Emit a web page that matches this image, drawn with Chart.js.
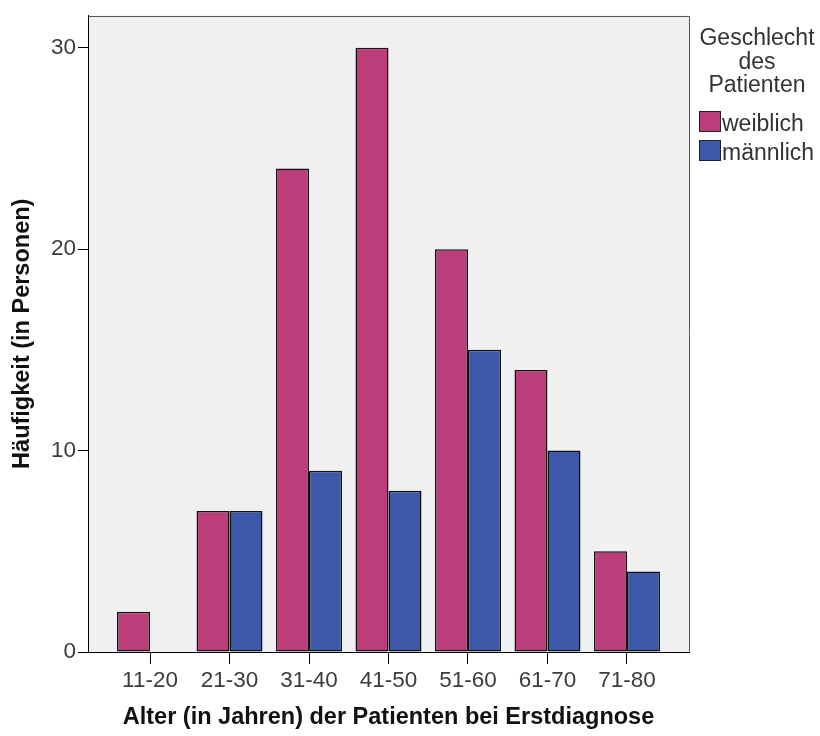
<!DOCTYPE html>
<html lang="de">
<head>
    <meta charset="UTF-8">
    <title>Häufigkeit nach Alter und Geschlecht</title>
    <script src="https://cdn.jsdelivr.net/npm/chart.js"></script>
    <style>
        body {
            margin: 0;
            padding: 0;
            background: #fff;
        }
        #wrap {
            width: 820px;
            height: 736px;
            position: relative;
        }
    </style>
</head>
<body>
<div id="wrap">
    <canvas id="chart"></canvas>
</div>
<script>
    // Daten
    const ageGroups = ['11-20', '21-30', '31-40', '41-50', '51-60', '61-70', '71-80'];
    const female = [2, 7, 24, 30, 20, 14, 5];
    const male = [null, 7, 9, 8, 15, 10, 4];
    const yTicks = [0, 10, 20, 30];
    const seriesNames = ['weiblich', 'männlich'];
    const legendTitle = ['Geschlecht', 'des', 'Patienten'];

    const pink = '#BB3E7B';
    const blue = '#3D58A9';
    const fontFamily = "'Liberation Sans', Arial, sans-serif";

    function toPoints(arr) {
        return arr.map((v, i) => ({ x: i + 1, y: v }));
    }

    // Hintergrund, Rahmen und Legende
    var framePlugin = {
        id: 'frame',
        beforeDraw: function (chart) {
            var ctx = chart.ctx, a = chart.chartArea;
            ctx.save();
            ctx.fillStyle = '#f0f0f0';
            ctx.fillRect(a.left, a.top, a.right - a.left, a.bottom - a.top);
            ctx.restore();
        },
        afterDraw: function (chart) {
            var ctx = chart.ctx, a = chart.chartArea;
            ctx.save();
            ctx.strokeStyle = '#555';
            ctx.lineWidth = 1;
            ctx.beginPath();
            ctx.moveTo(Math.round(a.left) + 0.5, Math.round(a.top) + 0.5);
            ctx.lineTo(Math.round(a.right) + 0.5, Math.round(a.top) + 0.5);
            ctx.lineTo(Math.round(a.right) + 0.5, Math.round(a.bottom) + 0.5);
            ctx.stroke();

            // Legende
            ctx.fillStyle = '#333';
            ctx.font = '23px ' + fontFamily;
            ctx.textAlign = 'center';
            ctx.textBaseline = 'alphabetic';
            var baselines = [45, 69, 92];
            legendTitle.forEach(function (t, i) {
                ctx.fillText(t, 757, baselines[i]);
            });
            var colors = [pink, blue];
            ctx.textAlign = 'left';
            seriesNames.forEach(function (name, i) {
                var y = 111 + i * 29;
                ctx.fillStyle = colors[i];
                ctx.fillRect(699, y, 21, 20);
                ctx.strokeStyle = '#222';
                ctx.strokeRect(699.5, y + 0.5, 21, 20);
                ctx.fillStyle = '#333';
                ctx.fillText(name, 722, y + 20);
            });
            ctx.restore();
        }
    };

    var ctx = document.getElementById('chart').getContext('2d');
    new Chart(ctx, {
        type: 'bar',
        data: {
            datasets: [{
                label: seriesNames[0],
                data: toPoints(female),
                backgroundColor: pink,
                borderColor: '#111',
                borderWidth: 1.5,
                borderSkipped: false
            }, {
                label: seriesNames[1],
                data: toPoints(male),
                backgroundColor: blue,
                borderColor: '#111',
                borderWidth: 1.5,
                borderSkipped: false
            }]
        },
        options: {
            responsive: true,
            maintainAspectRatio: false,
            animation: false,
            datasets: {
                bar: {
                    barPercentage: 1,
                    categoryPercentage: 0.83
                }
            },
            layout: {
                padding: { top: 12, right: 131, left: 0, bottom: 0 }
            },
            plugins: {
                legend: { display: false },
                tooltip: { enabled: false }
            },
            scales: {
                x: {
                    type: 'linear',
                    min: 0.22,
                    max: 7.78,
                    offset: false,
                    afterBuildTicks: function (s) {
                        s.ticks = ageGroups.map((_, i) => ({ value: i + 1 }));
                    },
                    afterFit: function (s) { s.height = 84; },
                    grid: {
                        offset: false,
                        drawOnChartArea: false,
                        drawTicks: true,
                        tickLength: 12,
                        color: '#000'
                    },
                    border: { display: true, color: '#000', width: 1 },
                    ticks: {
                        autoSkip: false,
                        maxRotation: 0,
                        padding: 3,
                        color: '#3c3c3c',
                        font: { family: fontFamily, size: 22.5 },
                        callback: function (v) { return ageGroups[v - 1]; }
                    },
                    title: {
                        display: true,
                        text: 'Alter (in Jahren) der Patienten bei Erstdiagnose',
                        color: '#111',
                        font: { family: fontFamily, size: 23.5, weight: 'bold' },
                        padding: { top: 0, bottom: 4 }
                    }
                },
                y: {
                    min: 0,
                    max: 31.6,
                    afterBuildTicks: function (s) {
                        s.ticks = yTicks.map(v => ({ value: v }));
                    },
                    afterFit: function (s) { s.width = 88; },
                    grid: {
                        drawOnChartArea: false,
                        drawTicks: true,
                        tickLength: 10,
                        color: '#000'
                    },
                    border: { display: true, color: '#000', width: 1 },
                    ticks: {
                        padding: 2,
                        color: '#3c3c3c',
                        font: { family: fontFamily, size: 22.5 }
                    },
                    title: {
                        display: true,
                        text: 'Häufigkeit (in Personen)',
                        color: '#111',
                        font: { family: fontFamily, size: 23.5, weight: 'bold' },
                        padding: { top: 8, bottom: 0 }
                    }
                }
            }
        },
        plugins: [framePlugin]
    });
</script>
</body>
</html>
